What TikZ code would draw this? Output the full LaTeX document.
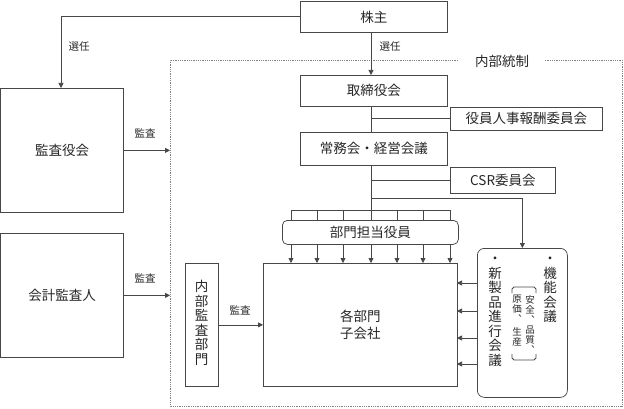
\documentclass[tikz,border=0pt]{standalone}
\usepackage{fontspec}
\setmainfont{Noto Sans CJK JP}
\usetikzlibrary{arrows.meta}
\begin{document}
\begin{tikzpicture}[x=1pt,y=-1pt,
  line/.style={draw=black!72, line width=0.75pt},
  box/.style={line, rectangle, inner sep=0pt, anchor=north west, align=center,
    font=\fontsize{13.5}{16.5}\selectfont, text=black!85},
  rbox/.style={box, rounded corners=5pt},
  lbl/.style={font=\fontsize{10.5}{12}\selectfont, inner sep=0pt, text=black!85},
  vtext/.style={inner sep=0pt, anchor=north, align=center,
    font=\fontsize{13.5}{14.5}\selectfont, text=black!85},
  vsmall/.style={inner sep=0pt, anchor=north, align=center,
    font=\fontsize{9.5}{10}\selectfont, text=black!85},
  arr/.style={line, -{Triangle[length=5pt,width=5pt]}},
  dotline/.style={draw=black!50, line width=0.8pt, densely dotted}]
\useasboundingbox (0,0) rectangle (624,409);

% internal control frame
\coordinate (f1) at (170,406);
\coordinate (f2) at (170,60);
\coordinate (f3) at (458,60);
\coordinate (f4) at (545,60);
\coordinate (f5) at (622,60);
\coordinate (f6) at (622,406);
\draw[dotline] (f3) -- (f2) -- (f1) -- (f6) -- (f5) -- (f4);
\node[inner sep=0pt, font=\fontsize{13.5}{16}\selectfont, text=black!85] (ic) at (502,61) {内部統制};

% boxes
\node[box, minimum width=147pt, minimum height=31pt] (kabu) at (300,1) {株主};
\node[box, minimum width=122.5pt, minimum height=124pt] (kansa) at (0.5,88) {監査役会};
\node[box, minimum width=122.5pt, minimum height=124pt] (kaikei) at (0.5,233) {会計監査人};
\node[box, minimum width=147pt, minimum height=31pt] (tori) at (300,75) {取締役会};
\node[box, minimum width=152pt, minimum height=23pt] (yakuin) at (450,107) {役員人事報酬委員会};
\node[box, minimum width=147pt, minimum height=33pt] (jomu) at (300,132) {常務会・経営会議};
\node[box, minimum width=105pt, minimum height=26pt] (csr) at (450,167) {CSR委員会};
\node[rbox, minimum width=176pt, minimum height=24pt] (bumon) at (282,220) {部門担当役員};
\node[box, minimum width=194pt, minimum height=123pt] (kakubu) at (263,263) {各部門\\子会社};
\node[box, minimum width=33pt, minimum height=123pt] (naibu) at (185,263) {};
\node[rbox, rounded corners=7pt, minimum width=90pt, minimum height=149pt] (kino) at (477,248) {};

% vertical texts
\node[vtext] (naibut) at (201.5,280) {内\\部\\監\\査\\部\\門};
\node[vtext] (kinot) at (550,257) {・\\機\\能\\会\\議};
\node[vtext] (shint) at (495,257) {・\\新\\製\\品\\進\\行\\会\\議};
\node[vsmall] (sub1) at (530,295) {安\\全\\︑\\品\\質\\︑};
\node[vsmall] (sub2) at (517,295) {原\\価\\︑\\[3pt]生\\産};
\draw[line] (512,293) -- (512,289) -- (514,287) -- (534,287) -- (536,289) -- (536,293);
\draw[line] (512,354) -- (512,358) -- (514,360) -- (534,360) -- (536,358) -- (536,354);

% spine x
\coordinate (sp) at (371,0);

% election arrows
\coordinate (e1) at (61,0 |- kabu.west);
\draw[arr] (kabu.west) -- (e1) -- (e1 |- kansa.north);
\node[lbl] (l1) at (79,47) {選任};
\draw[arr] (kabu.south -| sp) -- (tori.north -| sp);
\node[lbl] (l2) at (390,47) {選任};

% audit arrows
\coordinate (a1) at (f1 |- kansa.east);
\draw[arr] (kansa.east) -- (a1);
\node[lbl] (l3) at (145,133) {監査};
\coordinate (a2) at (f1 |- kaikei.east);
\draw[arr] (kaikei.east) -- (a2);
\node[lbl] (l4) at (145,278) {監査};
\draw[arr] (naibu.east) -- (naibu.east -| kakubu.west);
\node[lbl] (l5) at (240,310) {監査};

% spine
\draw[line] (tori.south -| sp) -- (jomu.north -| sp);
\draw[line] (yakuin.west -| sp) -- (yakuin.west);
\draw[line] (jomu.south -| sp) -- (bumon.north -| sp);
\draw[line] (csr.west -| sp) -- (csr.west);
\coordinate (s1) at (371,198);
\coordinate (s2) at (kino.north |- s1);
\draw[arr] (s1) -- (s2) -- (kino.north);

% department officers fan
\coordinate (t0) at (291,210);
\coordinate (t6) at (450,210);
\draw[line] (t0) -- (t6);
\foreach \x in {291,317,343,397,423,450}{
  \draw[line] (\x,210) -- (\x,220);
}
\foreach \x in {291,317,343,371,397,423,450}{
  \draw[arr] (\x,244) -- (\x,263);
}

% meetings to departments
\foreach \y in {283,311,338,364}{
  \draw[arr] (477,\y) -- (457,\y);
}
\end{tikzpicture}
\end{document}
